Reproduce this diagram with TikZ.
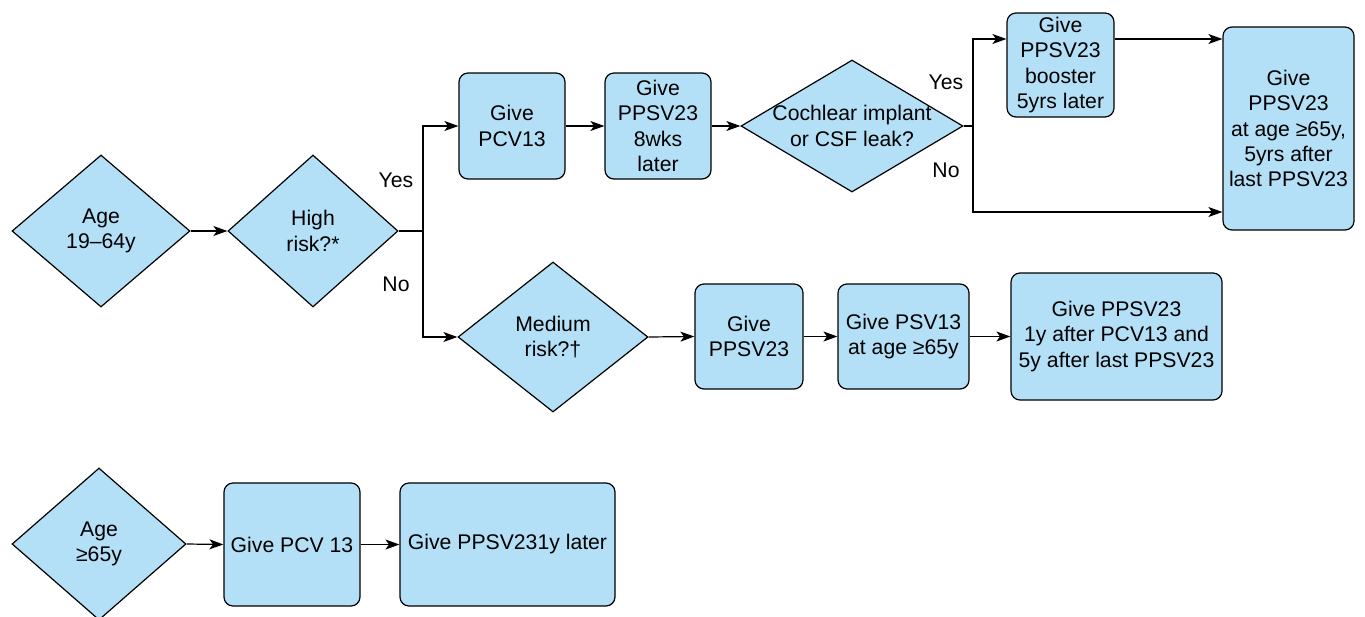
\documentclass[tikz,border=0pt]{standalone}
\usepackage{fontspec}
\setmainfont{Liberation Sans}
\usetikzlibrary{shapes.geometric,arrows.meta}
\definecolor{fillblue}{RGB}{179,224,247}
\begin{document}
\begin{tikzpicture}[x=0.5pt,y=-0.5pt,
  txt/.style={font=\fontsize{10.6}{12.6}\selectfont, align=center, inner sep=0pt},
  dia/.style={diamond, draw=black, fill=fillblue, line width=0.6pt, inner sep=0pt},
  box/.style={rectangle, rounded corners=4.5pt, draw=black, fill=fillblue, line width=0.6pt, inner sep=0pt, font=\fontsize{10.6}{12.6}\selectfont, align=center},
  arr/.style={line width=0.6pt, -{Stealth[length=7pt,width=5pt,inset=1.8pt]}},
  ln/.style={line width=0.6pt}]
\useasboundingbox (0,0) rectangle (1365,616);
\begin{scope}
\clip (0,0) rectangle (1365,616);
% row 1
\node[dia, minimum width=89pt, minimum height=76pt] (age1) at (101,231) {};
\node[txt] (age1t) at (age1.center) {Age\\19–64y};
\node[dia, minimum width=85pt, minimum height=76pt] (high) at (313,231) {};
\node[txt] (hight) at (high.center) {High\\risk?*};
\node[box, minimum width=53pt, minimum height=53pt] (pcv) at (512,126) {Give\\PCV13};
\node[box, minimum width=53pt, minimum height=53pt] (ppsv8) at (658,126) {Give\\PPSV23\\8wks\\later};
\node[dia, minimum width=111pt, minimum height=66pt] (coch) at (852,126) {};
\node[txt] (coocht) at (coch.center) {Cochlear implant\\or CSF leak?};
\node[box, minimum width=53.5pt, minimum height=52pt] (boost) at (1060.5,65) {Give\\PPSV23\\booster\\5yrs later};
\node[box, minimum width=65.5pt, minimum height=101.5pt] (big) at (1288.5,128.5) {Give\\PPSV23\\at age ≥65y,\\5yrs after\\last PPSV23};
% row 2
\node[dia, minimum width=95pt, minimum height=75pt] (med) at (553,337) {};
\node[txt] (medt) at (med.center) {Medium\\risk?†};
\node[box, minimum width=54pt, minimum height=52.5pt] (ppsvg) at (749,336.5) {Give\\PPSV23};
\node[box, minimum width=65.5pt, minimum height=52.5pt] (psv13) at (903.5,336.5) {Give PSV13\\at age ≥65y};
\node[box, minimum width=105.5pt, minimum height=63.5pt] (final) at (1116.5,336.5) {Give PPSV23\\1y after PCV13 and\\5y after last PPSV23};
% row 3
\node[dia, minimum width=87pt, minimum height=76pt] (age2) at (99,544) {};
\node[txt] (age2t) at (age2.center) {Age\\≥65y};
\node[box, minimum width=68pt, minimum height=61.5pt] (pcv2) at (292,544.5) {Give PCV 13};
\node[box, minimum width=107.5pt, minimum height=61.5pt] (ppsv2) at (507.5,544.5) {Give PPSV231y later};
% connectors
\coordinate (j1) at (423,231);
\coordinate (j2) at (973,126);
\coordinate (yb) at (973,39);
\coordinate (yn) at (973,212);
\draw[arr] (age1.east) -- (high.west);
\draw[ln] (high.east) -- (j1);
\draw[arr] (j1) |- (pcv.west);
\draw[arr] (j1) |- (med.west);
\draw[arr] (pcv.east) -- (ppsv8.west);
\draw[arr] (ppsv8.east) -- (coch.west);
\draw[ln] (coch.east) -- (j2);
\draw[arr] (j2) -- (yb) -- (boost.west |- yb);
\draw[arr] (boost.east |- yb) -- (big.west |- yb);
\draw[arr] (j2) -- (yn) -- (big.west |- yn);
\draw[arr] (med.east) -- (ppsvg.west);
\draw[arr] (ppsvg.east) -- (psv13.west);
\draw[arr] (psv13.east) -- (final.west);
\draw[arr] (age2.east) -- (pcv2.west);
\draw[arr] (pcv2.east) -- (ppsv2.west);
% labels
\node[txt] (yes1) at (396,180) {Yes};
\node[txt] (no1) at (396,284) {No};
\node[txt] (yes2) at (946,82) {Yes};
\node[txt] (no2) at (946,170) {No};
\end{scope}
\end{tikzpicture}
\end{document}
